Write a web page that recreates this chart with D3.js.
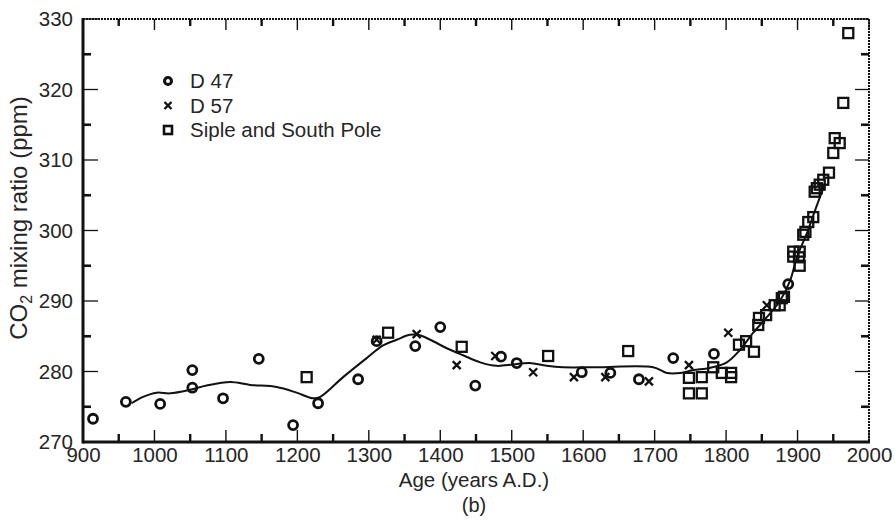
<!DOCTYPE html>
<html>
<head>
<meta charset="utf-8">
<script src="https://cdn.jsdelivr.net/npm/d3@7/dist/d3.min.js"></script>
<style>
  html, body { margin: 0; padding: 0; background: #fff; }
  svg { display: block; }
  text { font-family: "Liberation Sans", Arial, Helvetica, sans-serif; fill: #262626; }
</style>
</head>
<body>
<svg id="chart" width="895" height="523"></svg>
<script>
// ---- data ----
const d47Years  = [914, 960, 1008, 1053, 1053, 1096, 1146, 1194, 1229, 1285, 1311, 1365, 1400, 1449, 1485, 1507, 1598, 1638, 1678, 1726, 1783, 1887];
const d47Values = [273.3, 275.7, 275.4, 280.2, 277.7, 276.2, 281.8, 272.4, 275.5, 278.9, 284.3, 283.6, 286.3, 278.0, 282.1, 281.2, 279.9, 279.8, 278.9, 281.9, 282.5, 292.4];

const d57Years  = [1311, 1367, 1423, 1477, 1530, 1587, 1631, 1692, 1748, 1803, 1857];
const d57Values = [284.5, 285.3, 280.9, 282.2, 279.9, 279.2, 279.2, 278.6, 280.9, 285.5, 289.4];

const sipleYears  = [1213, 1327, 1430, 1551, 1663, 1748, 1748, 1766, 1766, 1782, 1794, 1807, 1807, 1818, 1828, 1839, 1845, 1846, 1856, 1868, 1875, 1878, 1881, 1894, 1903, 1894, 1902, 1903, 1908, 1911, 1915, 1922, 1924, 1927, 1931, 1936, 1944, 1950, 1952, 1959, 1964, 1971];
const sipleValues = [279.2, 285.5, 283.5, 282.2, 282.9, 279.1, 276.9, 279.2, 276.9, 280.6, 279.8, 279.8, 279.2, 283.8, 284.3, 282.8, 286.6, 287.6, 288.0, 289.4, 289.4, 290.4, 290.6, 297.0, 297.0, 296.3, 296.2, 295.0, 299.4, 299.8, 301.2, 301.9, 305.5, 306.0, 306.5, 307.2, 308.2, 311.0, 313.1, 312.4, 318.1, 328.0];

const fitYears  = [968, 984, 1003, 1022, 1050, 1073, 1106, 1134, 1171, 1199, 1222, 1232, 1264, 1297, 1320, 1339, 1357, 1369, 1386, 1409, 1432, 1456, 1479, 1502, 1525, 1549, 1572, 1619, 1698, 1717, 1736, 1754, 1777, 1801, 1819, 1838, 1857, 1876, 1890, 1899, 1913, 1925, 1938];
const fitValues = [275.5, 276.4, 277.0, 276.9, 277.4, 278.0, 278.5, 278.1, 277.8, 277.0, 276.2, 276.4, 279.2, 281.9, 283.7, 284.5, 285.2, 285.2, 284.5, 283.3, 282.3, 281.3, 280.8, 281.0, 281.2, 280.8, 280.6, 280.6, 280.6, 279.8, 279.8, 280.2, 280.5, 281.3, 283.0, 285.5, 287.7, 290.1, 293.0, 296.2, 299.6, 303.0, 306.5];

const xTicks = [900, 1000, 1100, 1200, 1300, 1400, 1500, 1600, 1700, 1800, 1900, 2000];
const xMinorTicks = [950, 1050, 1150, 1250, 1350, 1450, 1550, 1650, 1750, 1850, 1950];
const yTicks = [270, 280, 290, 300, 310, 320, 330];
const yMinorTicks = [275, 285, 295, 305, 315, 325];
const legendLabels = ["D 47", "D 57", "Siple and South Pole"];

// ---- layout ----
const svg = d3.select("#chart");
const L = 83, R = 869, T = 19, B = 442;
const x = d3.scaleLinear().domain([900, 2000]).range([L, R]);
const y = d3.scaleLinear().domain([270, 330]).range([B, T]);
const ink = "#111";

const g = svg.append("g");
// bottom ticks
g.selectAll(".bmaj").data(xTicks).enter().append("line")
  .attr("x1", d => x(d)).attr("x2", d => x(d)).attr("y1", B).attr("y2", B - 12)
  .attr("stroke", ink).attr("stroke-width", 1.4);
g.selectAll(".bmin").data(xMinorTicks).enter().append("line")
  .attr("x1", d => x(d)).attr("x2", d => x(d)).attr("y1", B).attr("y2", B - 8)
  .attr("stroke", ink).attr("stroke-width", 2.4);
// top ticks
g.selectAll(".tmaj").data(xTicks).enter().append("line")
  .attr("x1", d => x(d)).attr("x2", d => x(d)).attr("y1", T).attr("y2", T + 11)
  .attr("stroke", ink).attr("stroke-width", 1.4);
g.selectAll(".tmin").data(xMinorTicks).enter().append("line")
  .attr("x1", d => x(d)).attr("x2", d => x(d)).attr("y1", T).attr("y2", T + 7)
  .attr("stroke", ink).attr("stroke-width", 2.4);
// left ticks
g.selectAll(".lmaj").data(yTicks).enter().append("line")
  .attr("y1", d => y(d)).attr("y2", d => y(d)).attr("x1", L).attr("x2", L + 15)
  .attr("stroke", ink).attr("stroke-width", 1.3);
g.selectAll(".lmin").data(yMinorTicks).enter().append("line")
  .attr("y1", d => y(d)).attr("y2", d => y(d)).attr("x1", L).attr("x2", L + 8)
  .attr("stroke", ink).attr("stroke-width", 2.6);
// right ticks
g.selectAll(".rmaj").data(yTicks).enter().append("line")
  .attr("y1", d => y(d)).attr("y2", d => y(d)).attr("x1", R).attr("x2", R - 14)
  .attr("stroke", ink).attr("stroke-width", 1.3);
g.selectAll(".rmin").data(yMinorTicks).enter().append("line")
  .attr("y1", d => y(d)).attr("y2", d => y(d)).attr("x1", R).attr("x2", R - 8)
  .attr("stroke", ink).attr("stroke-width", 2.6);

// frame
svg.append("line").attr("x1", L).attr("x2", R).attr("y1", T).attr("y2", T).attr("stroke", ink).attr("stroke-width", 2).attr("stroke-dasharray", "2,1");
svg.append("line").attr("x1", R).attr("x2", R).attr("y1", T).attr("y2", B).attr("stroke", ink).attr("stroke-width", 2).attr("stroke-dasharray", "2,1");
svg.append("line").attr("x1", L).attr("x2", R + 1).attr("y1", B).attr("y2", B).attr("stroke", ink).attr("stroke-width", 3);
svg.append("line").attr("x1", L).attr("x2", L).attr("y1", T - 1).attr("y2", B + 1.5).attr("stroke", ink).attr("stroke-width", 3);

// tick labels via d3 axes (tick lines hidden)
const xAxis = d3.axisBottom(x).tickValues(xTicks).tickSize(0).tickPadding(5).tickFormat(d3.format("d"));
const xa = svg.append("g").attr("transform", `translate(0,${B})`).call(xAxis);
xa.select(".domain").remove();
xa.selectAll("text").style("font-size", "20.5px").attr("fill", "#262626").style("font-family", '"Liberation Sans", Arial, sans-serif');

const yAxis = d3.axisLeft(y).tickValues(yTicks).tickSize(0).tickPadding(10).tickFormat(d3.format("d"));
const ya = svg.append("g").attr("transform", `translate(${L},0)`).call(yAxis);
ya.select(".domain").remove();
ya.selectAll("text").style("font-size", "20.5px").attr("fill", "#262626").style("font-family", '"Liberation Sans", Arial, sans-serif');

// axis titles
svg.append("text").attr("x", 474).attr("y", 487).attr("text-anchor", "middle")
  .style("font-size", "20.5px").text("Age (years A.D.)");
svg.append("text").attr("x", 474).attr("y", 512).attr("text-anchor", "middle")
  .style("font-size", "20px").text("(b)");
const yl = svg.append("text").attr("transform", "translate(27,218) rotate(-90)")
  .attr("text-anchor", "middle").style("font-size", "24px");
yl.append("tspan").text("CO");
yl.append("tspan").attr("dy", 5).style("font-size", "16px").text("2");
yl.append("tspan").attr("dy", -5).text(" mixing ratio (ppm)");

// fit curve
const fit = fitYears.map((d, i) => [d, fitValues[i]]);
svg.append("path").datum(fit)
  .attr("fill", "none").attr("stroke", ink).attr("stroke-width", 2)
  .attr("d", d3.line().x(d => x(d[0])).y(d => y(d[1])).curve(d3.curveCatmullRom.alpha(0.5)));

// markers
function circleMark(sel) {
  sel.append("circle").attr("r", 4.5).attr("fill", "none").attr("stroke", ink).attr("stroke-width", 2.8);
}
function squareMark(sel) {
  sel.append("rect").attr("x", -5).attr("y", -5).attr("width", 10).attr("height", 10)
    .attr("fill", "none").attr("stroke", ink).attr("stroke-width", 2.3);
}
function crossMark(sel) {
  sel.append("path").attr("d", "M-4,-4L4,4M-4,4L4,-4").attr("fill", "none").attr("stroke", ink).attr("stroke-width", 2.3);
}

const sipleData = sipleYears.map((d, i) => [d, sipleValues[i]]);
const d47Data = d47Years.map((d, i) => [d, d47Values[i]]);
const d57Data = d57Years.map((d, i) => [d, d57Values[i]]);

svg.append("g").selectAll("g").data(sipleData).enter().append("g")
  .attr("transform", d => `translate(${x(d[0])},${y(d[1])})`).call(squareMark);
svg.append("g").selectAll("g").data(d47Data).enter().append("g")
  .attr("transform", d => `translate(${x(d[0])},${y(d[1])})`).call(circleMark);
svg.append("g").selectAll("g").data(d57Data).enter().append("g")
  .attr("transform", d => `translate(${x(d[0])},${y(d[1])})`).call(crossMark);

// legend
legendLabels.forEach((lab, i) => {
  const yy = 81 + i * 24.5;
  const gg = svg.append("g").attr("transform", `translate(168,${yy})`);
  if (i === 0) gg.append("circle").attr("r", 3.5).attr("fill", "none").attr("stroke", ink).attr("stroke-width", 3);
  else if (i === 1) gg.append("path").attr("d", "M-3.5,-3.5L3.5,3.5M-3.5,3.5L3.5,-3.5").attr("stroke", ink).attr("stroke-width", 2.4);
  else gg.append("rect").attr("x", -4).attr("y", -4).attr("width", 8).attr("height", 8).attr("fill", "none").attr("stroke", ink).attr("stroke-width", 2.6);
  svg.append("text").attr("x", 190).attr("y", yy + 7).style("font-size", "20.5px").text(lab);
});
</script>
</body>
</html>
